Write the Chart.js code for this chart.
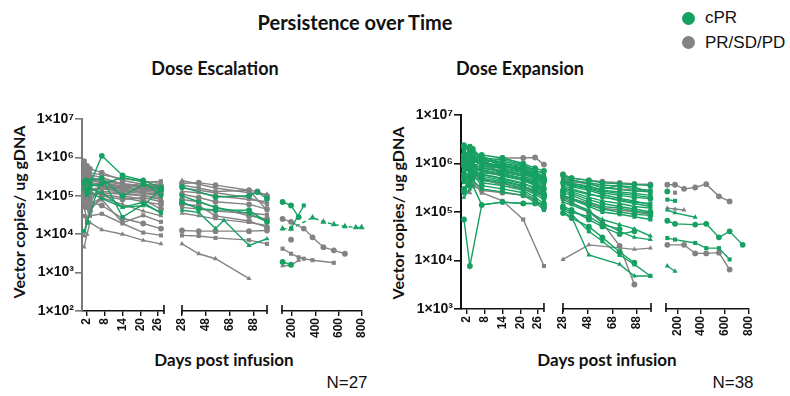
<!DOCTYPE html>
<html>
<head>
<meta charset="utf-8">
<script src="https://cdn.jsdelivr.net/npm/chart.js@4.4.1/dist/chart.umd.min.js"></script>
<style>
  body { margin: 0; width: 790px; height: 396px; position: relative; overflow: hidden; background: #fff; font-family: 'Liberation Sans', Arial, sans-serif; }
  canvas { position: absolute; }
  .t { position: absolute; white-space: nowrap; color: #111; transform: translate(-50%, -50%); }
  .b { font-family: Lato, 'Open Sans', sans-serif; font-weight: 700; }
  .rot { transform: translate(-50%, -50%) rotate(-90deg); }
  .dot { position: absolute; width: 13px; height: 13px; border-radius: 50%; }
</style>
</head>
<body>

<div class="t b" style="left:355px;top:22px;font-size:20px">Persistence over Time</div>
<div class="t b" style="left:215px;top:68px;font-size:18px">Dose Escalation</div>
<div class="t b" style="left:520px;top:68px;font-size:18px">Dose Expansion</div>

<div class="dot" style="left:682px;top:12px;background:#16a062"></div>
<div class="dot" style="left:682px;top:36px;background:#838383"></div>
<div class="t" style="left:705px;top:18px;font-size:17px;transform:translate(0,-50%)">cPR</div>
<div class="t" style="left:705px;top:43px;font-size:17px;transform:translate(0,-50%)">PR/SD/PD</div>

<div class="t b rot" style="left:18px;top:212px;font-size:16px">Vector copies/ ug gDNA</div>
<div class="t b rot" style="left:397px;top:213px;font-size:16px">Vector copies/ ug gDNA</div>
<div class="t b" style="left:224px;top:359px;font-size:17px">Days post infusion</div>
<div class="t b" style="left:607px;top:359px;font-size:17px">Days post infusion</div>
<div class="t" style="left:347px;top:383px;font-size:17px">N=27</div>
<div class="t" style="left:733px;top:383px;font-size:17px">N=38</div>

<canvas id="esc1" width="175" height="247" style="left:0;top:109px"></canvas>
<canvas id="esc2" width="103" height="247" style="left:172px;top:109px"></canvas>
<canvas id="esc3" width="104" height="247" style="left:274px;top:109px"></canvas>
<canvas id="exp1" width="175" height="249" style="left:380px;top:105px"></canvas>
<canvas id="exp2" width="106" height="249" style="left:553px;top:105px"></canvas>
<canvas id="exp3" width="109" height="249" style="left:656px;top:105px"></canvas>

<script>
// ---- axis ticks ----
const escYTicks = [1e2, 1e3, 1e4, 1e5, 1e6, 1e7];
const expYTicks = [1e3, 1e4, 1e5, 1e6, 1e7];
const earlyTicks = [2, 8, 14, 20, 26];
const midTicks = [28, 48, 68, 88];
const lateTicks = [200, 400, 600, 800];

// ---- Dose Escalation ----
const escEarlyDays = [1, 2, 3, 7, 14, 21, 27];
const escEarlyCpr = [
  [null, 1.2e5, 2.0e5, 1.1e6, 3.4e5, 2.5e5, 1.6e5],
  [1.2e4, 2.0e4, null, 3.0e5, 2.8e4, 6.0e4, 3.7e4],
  [1.5e5, null, null, 8.5e4, 5.0e4, 6.8e4, 3.5e4],
  [null, 2.5e5, null, 2.8e5, 1.0e5, 2.0e5, 1.4e5],
  [2.0e5, 1.5e5, 1.8e5, 2.0e5, 3.0e5, 2.3e5, 1.0e5],
  [2.5e5, 1.0e5, 1.5e5, 1.2e5, 5.0e4, 5.5e4, 1.5e5]
];
const escEarlyOther = [
  [8.0e5, 6.0e5, 5.0e5, 4.0e5, 2.5e5, 2.0e5, 1.8e5],
  [6.0e5, 4.5e5, 3.5e5, 3.0e5, 2.0e5, 1.6e5, 1.5e5],
  [4.5e5, 3.0e5, 2.5e5, 2.2e5, 1.8e5, 1.9e5, 2.0e5],
  [3.5e5, 2.0e5, 1.5e5, 1.6e5, 1.5e5, 1.2e5, 1.1e5],
  [2.0e5, 1.2e5, 1.0e5, 1.3e5, 1.2e5, 1.0e5, 9.0e4],
  [1.5e5, 8.0e4, 6.0e4, 2.5e5, 1.4e5, 1.3e5, 1.2e5],
  [1.0e5, 5.0e4, 4.0e4, 1.0e5, 8.0e4, 9.0e4, 7.0e4],
  [5.0e4, 2.5e4, 3.0e4, 3.4e4, 1.9e4, 1.1e4, 9.3e3],
  [4.6e3, 1.0e4, 2.0e4, 1.3e4, 1.0e4, 6.9e3, 5.6e3],
  [8.0e4, 6.0e4, 7.0e4, 5.6e4, 2.6e4, 1.9e4, 1.4e4],
  [3.0e4, 2.0e4, 5.0e4, 8.0e4, 2.0e4, 3.1e4, 2.1e4],
  [7.0e5, 5.0e5, 4.0e5, 3.5e5, 2.8e5, 2.4e5, 2.1e5],
  [1.2e5, 2.0e5, 3.0e5, 2.0e5, 1.0e5, 8.0e4, 4.5e4],
  [2.5e5, 3.0e5, 2.0e5, 1.8e5, 1.3e5, 1.5e5, 1.3e5],
  [9.0e3, 2.0e4, 6.0e4, 9.0e4, 6.0e4, 4.0e4, 3.0e4],
  [3.0e5, 1.8e5, 1.2e5, 1.1e5, 9.0e4, 7.0e4, 6.0e4],
  [6.0e4, 1.5e5, 2.0e5, 1.7e5, 1.6e5, 2.2e5, 2.4e5],
  [null, 4.0e5, 3.0e5, 2.6e5, 2.1e5, 1.8e5, 1.7e5],
  [5.0e5, 3.5e5, 2.8e5, 2.4e5, 2.0e5, 1.7e5, 1.6e5],
  [2.8e5, 2.2e5, 1.9e5, 1.8e5, 1.6e5, 1.4e5, 1.3e5],
  [1.8e5, 1.6e5, 1.4e5, 1.5e5, 1.3e5, 1.15e5, 1.0e5],
  [4.0e5, 2.6e5, 2.2e5, 2.0e5, 1.7e5, 1.5e5, 1.4e5],
  [1.3e5, 1.1e5, 9.0e4, 1.2e5, 1.1e5, 1.0e5, 8.0e4]
];

const escMidDays = [28, 42, 56, 63, 84, 91, 99];
const escMidCpr = [
  [1.7e5, null, 9.3e4, null, 1.0e5, 1.25e5, 8.4e4],
  [1.0e5, 7.0e4, 5.0e4, null, 3.5e4, null, 2.1e4],
  [4.2e4, 3.7e4, 1.4e4, 2.3e4, 5.1e3, null, 7.6e3],
  [6.8e4, 4.6e4, 4.3e4, null, 4.2e4, null, 2.1e4]
];
const escMidOther = [
  [2.1e5, 2.2e5, 1.9e5, null, 1.4e5, 1.3e5, 1.0e5],
  [1.9e5, 1.6e5, 1.3e5, null, 1.4e5, null, 4.2e4],
  [1.3e5, 1.2e5, 1.0e5, null, 8.0e4, null, 7.0e4],
  [1.1e5, 9.0e4, 7.0e4, null, 6.0e4, null, 4.5e4],
  [5.0e4, 4.5e4, 4.0e4, null, 3.5e4, null, 3.2e4],
  [3.5e4, 3.0e4, 2.5e4, null, 2.0e4, null, 1.7e4],
  [1.25e4, 1.2e4, 1.2e4, null, 1.2e4, null, 1.25e4],
  [9.3e3, 9.0e3, 8.0e3, null, 7.0e3, null, 5.6e3],
  [5.6e3, 3.1e3, 2.3e3, null, 7.0e2, null, null],
  [8.0e4, 7.0e4, 5.0e4, null, 3.0e4, null, 2.5e4],
  [1.6e5, 1.4e5, 1.2e5, null, 9.0e4, null, 6.0e4],
  [2.5e5, 2.0e5, 1.6e5, null, 1.2e5, null, 1.1e5],
  [6.0e4, 5.5e4, 3.0e4, null, 2.2e4, null, 1.5e4]
];

const escLateDays = [117, 190, 256, 300, 376, 470, 560, 656, 750, 800];
const escLateCpr = [
  [6.9e4, 5.6e4, 2.8e4, null, null, null, null, null, null, null],
  [null, 1.4e4, null, 5.6e4, null, null, null, null, null, null],
  [1.4e4, 1.4e4, null, null, 2.7e4, 2.1e4, 1.8e4, 1.6e4, 1.5e4, 1.5e4],
  [1.9e3, 1.6e3, null, null, null, null, null, null, null, null]
];
const escLateOther = [
  [2.5e4, 2.1e4, null, 1.4e4, 8.3e3, 4.6e3, 3.8e3, 3.1e3, null, null],
  [4.2e3, 3.1e3, 2.5e3, 2.3e3, 2.1e3, null, 1.8e3, null, null, null],
  [1.5e3, 1.55e3, 2.1e3, null, null, null, null, null, null, null],
  [null, 7.2e3, null, null, null, null, null, null, null, null]
];

// ---- Dose Expansion ----
const expEarlyDays = [1, 3, 4, 7, 14, 21, 25, 28];
const expEarlyCpr = [
  [2.4e6, 2.2e6, 1.6e6, 1.5e6, 1.3e6, 1.0e6, 8.0e5, 7.0e5],
  [2.0e6, 2.3e6, 1.8e6, 1.2e6, 1.1e6, 9.0e5, 7.5e5, 6.0e5],
  [1.8e6, 1.5e6, 1.3e6, 1.4e6, 1.0e6, 8.0e5, 6.5e5, 5.5e5],
  [1.5e6, 1.9e6, 1.5e6, 1.0e6, 9.0e5, 7.0e5, 5.5e5, 4.5e5],
  [1.3e6, 1.1e6, 1.2e6, 9.0e5, 8.0e5, 6.5e5, 5.0e5, 4.0e5],
  [1.1e6, 1.4e6, 1.0e6, 8.0e5, 7.0e5, 5.5e5, 4.5e5, 3.5e5],
  [9.0e5, 1.0e6, 8.5e5, 1.1e6, 6.0e5, 5.0e5, 4.0e5, 3.0e5],
  [8.0e5, 1.2e6, 9.0e5, 7.0e5, 5.5e5, 4.5e5, 3.5e5, 2.6e5],
  [7.0e5, 8.0e5, 7.0e5, 6.0e5, 5.0e5, 4.0e5, 3.0e5, 2.2e5],
  [6.0e5, 9.0e5, 6.5e5, 5.5e5, 4.5e5, 3.5e5, 2.6e5, 2.0e5],
  [5.0e5, 6.0e5, 5.0e5, 4.5e5, 4.0e5, 3.0e5, 2.3e5, 1.8e5],
  [4.0e5, 7.0e5, 8.0e5, 4.0e5, 3.5e5, 2.8e5, 2.0e5, 1.5e5],
  [3.0e5, 5.0e5, 6.0e5, 3.5e5, 3.0e5, 2.5e5, 1.8e5, 1.3e5],
  [2.5e5, 4.0e5, 4.5e5, 3.0e5, 2.6e5, 2.2e5, 1.6e5, 1.1e5],
  [2.0e5, 3.0e5, 3.5e5, 1.4e5, 1.6e5, 1.5e5, 1.5e5, 1.5e5],
  [7.0e4, 7.7e3, null, 1.4e5, 1.6e5, 1.5e5, 1.5e5, 1.5e5],
  [1.6e6, 1.3e6, 1.1e6, 1.2e6, 1.0e6, 8.5e5, 7.0e5, 6.5e5],
  [1.2e6, 9.0e5, 1.3e6, 9.5e5, 8.5e5, 7.5e5, 6.0e5, 5.0e5],
  [2.2e6, 1.7e6, 2.0e6, 1.3e6, 1.2e6, 9.5e5, 7.0e5, 5.0e5],
  [1.0e6, 8.0e5, 5.5e5, 8.5e5, 6.5e5, 5.5e5, 4.2e5, 3.2e5],
  [6.5e5, 5.5e5, 1.0e6, 6.5e5, 5.8e5, 4.5e5, 3.8e5, 2.8e5],
  [2.6e5, 5.0e5, 9.0e5, 5.0e5, 4.2e5, 3.4e5, 2.8e5, 2.2e5],
  [5.5e5, 1.6e6, 1.4e6, 1.1e6, 7.5e5, 6.0e5, 4.8e5, 3.8e5],
  [1.9e6, 1.2e6, 1.7e6, 1.0e6, 9.5e5, 7.0e5, 5.8e5, 4.8e5],
  [1.4e6, 1.8e6, 1.2e6, 1.15e6, 8.0e5, 6.8e5, 5.2e5, 4.2e5],
  [8.5e5, 6.5e5, 7.5e5, 7.5e5, 6.2e5, 4.8e5, 3.6e5, 2.5e5],
  [2.1e6, 1.9e6, 1.4e6, 1.3e6, 9.0e5, 7.8e5, 6.2e5, 5.2e5],
  [4.5e5, 3.5e5, 5.5e5, 6.0e5, 4.8e5, 3.8e5, 3.2e5, 2.4e5]
];
const expEarlyOther = [
  [1.0e6, 9.0e5, 1.1e6, 1.0e6, 1.3e6, 1.3e6, 1.33e6, 9.5e5],
  [null, 6.0e5, 4.5e5, 2.5e5, 1.7e5, 7.0e4, null, 7.7e3],
  [8.0e5, 7.0e5, 6.0e5, 5.0e5, 3.5e5, 3.0e5, 2.5e5, 2.0e5],
  [5.0e5, 4.0e5, 3.5e5, 2.8e5, 2.5e5, 2.2e5, 1.8e5, 1.2e5],
  [1.5e6, 1.1e6, 9.0e5, 7.0e5, 6.0e5, 5.0e5, 4.0e5, 3.0e5],
  [3.0e5, 2.5e5, 6.0e5, 4.5e5, 3.8e5, 3.2e5, 2.6e5, 2.3e5],
  [1.2e6, 1.0e6, 8.0e5, 9.0e5, 7.0e5, 6.0e5, 5.5e5, 4.5e5]
];

const expMidDays = [28, 35, 49, 60, 74, 86, 99];
const expMidCpr = [
  [5.8e5, 5.0e5, 4.5e5, 4.0e5, 3.8e5, 3.7e5, 3.5e5],
  [5.0e5, 4.5e5, 4.0e5, 3.6e5, 3.4e5, 3.0e5, 2.8e5],
  [4.5e5, 4.0e5, 3.2e5, 3.0e5, 3.5e5, 3.3e5, 2.5e5],
  [4.0e5, 3.5e5, 3.0e5, 2.5e5, 2.2e5, 2.0e5, 1.9e5],
  [3.5e5, 3.0e5, 2.4e5, 2.0e5, 1.8e5, 1.6e5, 1.5e5],
  [3.0e5, 2.6e5, 2.0e5, 1.7e5, 1.5e5, 1.3e5, 1.2e5],
  [2.5e5, 2.2e5, 1.6e5, 1.3e5, 1.2e5, 1.05e5, 9.5e4],
  [2.0e5, 1.8e5, 1.3e5, 1.0e5, 9.0e4, 8.0e4, 7.0e4],
  [1.6e5, 1.4e5, 1.0e5, 7.0e4, 5.5e4, 4.5e4, 3.2e4],
  [1.3e5, 1.1e5, 7.0e4, 5.0e4, 3.5e4, 4.0e4, null],
  [1.1e5, 9.0e4, 4.0e4, 2.5e4, 1.3e4, 8.3e3, 4.8e3],
  [1.0e5, 8.0e4, 1.3e4, null, 8.3e3, 4.8e3, 4.8e3],
  [9.5e4, 7.5e4, 5.0e4, 3.0e4, 1.5e4, 9.0e3, null],
  [4.5e5, 3.8e5, 3.5e5, 2.8e5, 2.6e5, 2.4e5, 2.2e5],
  [3.8e5, 3.3e5, 2.8e5, 2.3e5, 1.9e5, 1.7e5, 1.4e5],
  [2.8e5, 2.4e5, 1.8e5, 1.5e5, 1.3e5, 1.15e5, 1.0e5],
  [5.5e5, 4.6e5, 3.8e5, 3.2e5, 2.9e5, 2.7e5, 2.6e5],
  [1.8e5, 1.5e5, 1.1e5, 6.0e4, 4.0e4, 3.0e4, 2.7e4],
  [1.2e5, 1.0e5, 8.0e4, 5.5e4, 4.5e4, null, null],
  [4.2e5, 3.6e5, 3.1e5, 2.7e5, 2.4e5, 2.2e5, 2.0e5],
  [3.2e5, 2.8e5, 2.3e5, 2.1e5, 1.7e5, 1.5e5, 1.3e5],
  [2.2e5, 1.9e5, 1.4e5, 1.15e5, 1.0e5, 9.0e4, 8.5e4]
];
const expMidOther = [
  [6.0e5, 5.0e5, 4.5e5, 4.2e5, 4.0e5, 3.8e5, 3.7e5],
  [4.8e5, 4.2e5, 3.8e5, 3.3e5, 3.0e5, 2.8e5, 2.7e5],
  [1.05e4, null, 2.1e4, null, null, 1.7e4, 1.8e4],
  [2.0e5, 1.6e5, 1.0e5, 6.0e4, 2.0e4, 3.2e3, null],
  [2.2e5, 1.9e5, 1.5e5, 1.2e5, 1.1e5, 1.0e5, 9.0e4]
];

const expLateDays = [115, 180, 256, 350, 443, 550, 640, 750];
const expLateCpr = [
  [2.65e5, null, null, null, null, null, null, null],
  [1.8e5, 1.7e5, null, null, null, null, null, null],
  [1.1e5, 9.6e4, null, 7.8e4, null, null, null, null],
  [6.6e4, 5.7e4, null, 5.5e4, 5.7e4, 3.0e4, 4.0e4, 2.1e4],
  [2.9e4, 2.7e4, null, 2.3e4, 1.8e4, 1.8e4, 1.05e4, null],
  [7.7e3, 6.0e3, null, null, null, null, null, null]
];
const expLateOther = [
  [3.65e5, 3.65e5, 3.0e5, 3.2e5, 3.75e5, 2.1e5, 1.65e5, null],
  [null, 2.5e5, null, null, null, null, null, null],
  [1.2e5, 1.15e5, 1.1e5, null, null, null, null, null],
  [2.1e4, null, 2.1e4, 1.4e4, 1.4e4, 1.45e4, 6.5e3, null]
];

const GREEN = '#16a062';
const GRAY = '#838383';
const INK = '#111';
const shapes = ['circle', 'rect', 'triangle'];
const supDigits = '⁰¹²³⁴⁵⁶⁷⁸⁹';

function expLabel(v) {
  const p = Math.round(Math.log10(v));
  return '1×10' + String(p).split('').map(c => supDigits[+c]).join('');
}

function toDatasets(days, rows, color, dashed) {
  return rows.map((row, r) => ({
    data: days.map((d, i) => ({ x: d, y: row[i] })).filter(p => p.y != null),
    borderColor: color,
    backgroundColor: color,
    borderWidth: 1.4,
    borderDash: dashed.includes(r) ? [4, 3] : [],
    pointStyle: shapes[r % 3],
    pointRadius: dashed.includes(r) ? 3.6 : 2.9,
    pointBorderWidth: 0,
    clip: false
  }));
}

// short end caps where an axis segment is broken
const capPlugin = {
  id: 'caps',
  afterDraw(chart, args, opts) {
    const { ctx, chartArea: a } = chart;
    ctx.save();
    ctx.strokeStyle = INK;
    ctx.lineWidth = 1.6;
    (opts.at || []).forEach(side => {
      const x = side === 'left' ? a.left : a.right;
      ctx.beginPath();
      ctx.moveTo(x, a.bottom - 6);
      ctx.lineTo(x, a.bottom + 3);
      ctx.stroke();
    });
    ctx.restore();
  }
};

function segment(id, s) {
  new Chart(document.getElementById(id), {
    type: 'line',
    data: {
      datasets: [
        ...toDatasets(s.days, s.cpr, GREEN, s.dashed || []),
        ...toDatasets(s.days, s.other, GRAY, [])
      ]
    },
    options: {
      responsive: false,
      animation: false,
      events: [],
      layout: { padding: s.pad },
      plugins: { legend: { display: false }, tooltip: { enabled: false }, caps: { at: s.caps } },
      scales: {
        x: {
          type: 'linear',
          min: s.xMin,
          max: s.xMax,
          afterBuildTicks: sc => { sc.ticks = s.xTicks.map(v => ({ value: v })); },
          afterFit: sc => { sc.height = 45; },
          ticks: {
            autoSkip: false, minRotation: 90, maxRotation: 90, padding: 2,
            color: INK, font: { family: 'Liberation Sans', size: 12, weight: 'bold' }
          },
          grid: { drawOnChartArea: false, tickLength: 5, color: INK, lineWidth: 1.4 },
          border: { color: INK, width: 1.6 }
        },
        y: {
          type: 'logarithmic',
          display: s.yWidth > 0,
          min: s.yTicks[0],
          max: s.yTicks[s.yTicks.length - 1],
          afterBuildTicks: sc => { sc.ticks = s.yTicks.map(v => ({ value: v })); },
          afterFit: sc => { sc.width = s.yWidth; },
          ticks: {
            padding: 1, color: INK, callback: v => expLabel(v),
            font: { family: 'Liberation Sans', size: 14, weight: 'bold' }
          },
          grid: { drawOnChartArea: false, tickLength: 7, color: s.axisColor, lineWidth: 1.6 },
          border: { color: s.axisColor, width: 2 }
        }
      }
    },
    plugins: [capPlugin]
  });
}

segment('esc1', { days: escEarlyDays, cpr: escEarlyCpr, other: escEarlyOther, xMin: 0.3, xMax: 28, xTicks: earlyTicks,
  yTicks: escYTicks, yWidth: 82, axisColor: '#7a7a7a', pad: { top: 10, left: 0, right: 8, bottom: 0 }, caps: ['right'] });
segment('esc2', { days: escMidDays, cpr: escMidCpr, other: escMidOther, xMin: 28, xMax: 99, xTicks: midTicks,
  yTicks: escYTicks, yWidth: 0, pad: { top: 10, left: 10, right: 8, bottom: 0 }, caps: ['left', 'right'] });
segment('esc3', { days: escLateDays, cpr: escLateCpr, other: escLateOther, dashed: [2], xMin: 112, xMax: 800, xTicks: lateTicks,
  yTicks: escYTicks, yWidth: 0, pad: { top: 10, left: 8, right: 10, bottom: 0 }, caps: ['left'] });

segment('exp1', { days: expEarlyDays, cpr: expEarlyCpr, other: expEarlyOther, xMin: 0, xMax: 28, xTicks: earlyTicks,
  yTicks: expYTicks, yWidth: 81, axisColor: INK, pad: { top: 10, left: 0, right: 8, bottom: 0 }, caps: ['right'] });
segment('exp2', { days: expMidDays, cpr: expMidCpr, other: expMidOther, xMin: 28, xMax: 99.5, xTicks: midTicks,
  yTicks: expYTicks, yWidth: 0, pad: { top: 10, left: 10, right: 8, bottom: 0 }, caps: ['left', 'right'] });
segment('exp3', { days: expLateDays, cpr: expLateCpr, other: expLateOther, xMin: 104, xMax: 800, xTicks: lateTicks,
  yTicks: expYTicks, yWidth: 0, pad: { top: 10, left: 10, right: 12, bottom: 0 }, caps: ['left'] });
</script>
</body>
</html>
